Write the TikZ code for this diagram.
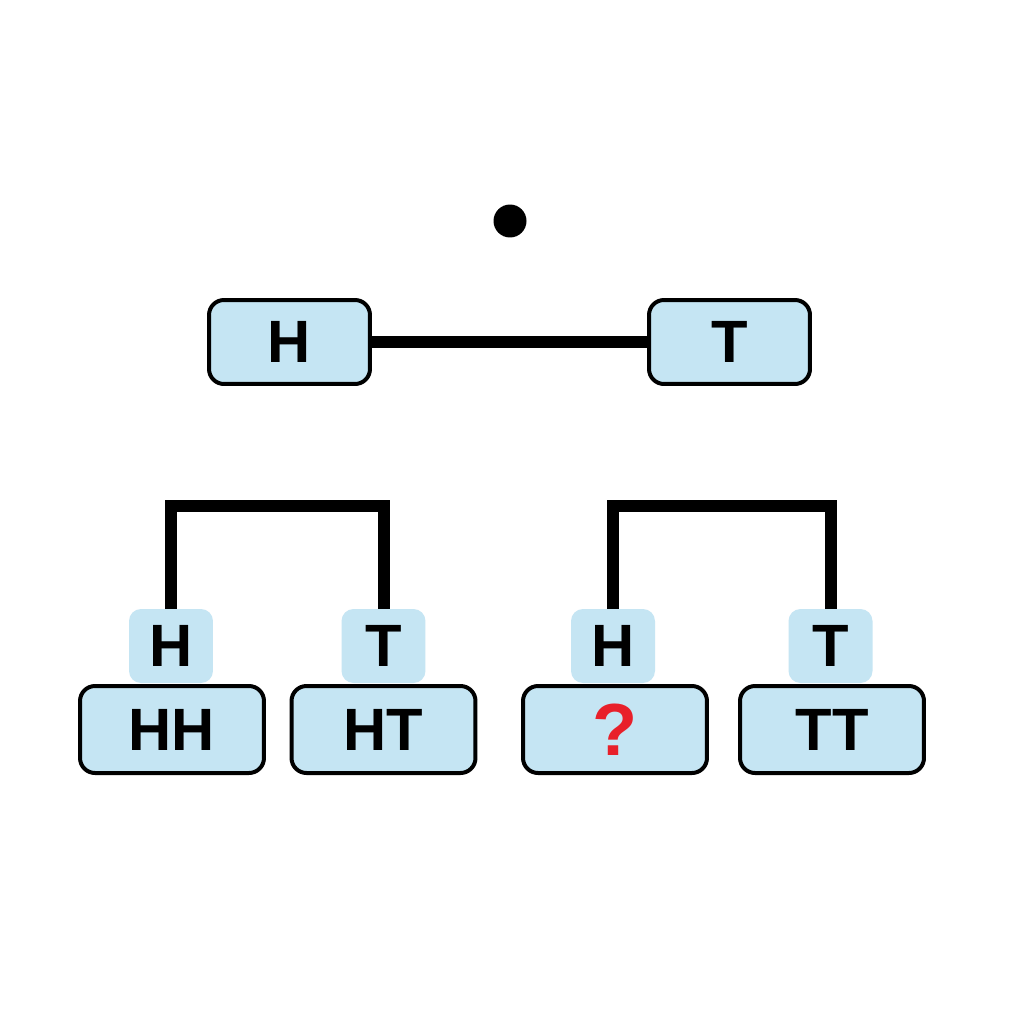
\documentclass[tikz,border=0pt]{standalone}
\usepackage{fontspec}
\setmainfont{Liberation Sans}
\definecolor{boxblue}{HTML}{C5E5F3}
\definecolor{qred}{HTML}{E8202A}
\begin{document}
\begin{tikzpicture}[x=0.02cm,y=-0.02cm,
  bigbox/.style={draw=black,line width=0.08cm,fill=boxblue,rounded corners=0.3cm,
    inner sep=0pt,font=\fontsize{34}{40}\selectfont\bfseries},
  topbox/.style={bigbox,minimum width=3.22cm,minimum height=1.68cm},
  leafbox/.style={bigbox,minimum width=3.68cm,minimum height=1.74cm},
  smallbox/.style={fill=boxblue,rounded corners=0.24cm,inner sep=0pt,
    minimum width=1.68cm,minimum height=1.48cm,font=\fontsize{34}{40}\selectfont\bfseries},
  link/.style={line width=0.24cm,black}]
\useasboundingbox (0,0) rectangle (1024,1024);
\fill[white] (0,0) rectangle (1024,1024);
% root dot
\node[circle,fill=black,minimum size=0.66cm,inner sep=0pt] (root) at (510,221) {};
% first level
\node[topbox] (h) at (289.5,342) {H};
\node[topbox] (t) at (729.5,342) {T};
\draw[link] (h.east) -- (t.west);
% small second-level boxes
\node[smallbox] (sh1) at (171,646) {H};
\node[smallbox] (st1) at (383.5,646) {T};
\node[smallbox] (sh2) at (613,646) {H};
\node[smallbox] (st2) at (830.5,646) {T};
\coordinate (b1) at (277,506);
\coordinate (b2) at (721,506);
\draw[link] (sh1.north) |- (b1) -| (st1.north);
\draw[link] (sh2.north) |- (b2) -| (st2.north);
% leaves
\node[leafbox] (hh) at (172,729.5) {HH};
\node[leafbox] (ht) at (383.5,729.5) {HT};
\node[leafbox] (q) at (615,729.5) {\textcolor{qred}{\fontsize{42}{46}\selectfont ?}};
\node[leafbox] (tt) at (832,729.5) {TT};
\end{tikzpicture}
\end{document}
